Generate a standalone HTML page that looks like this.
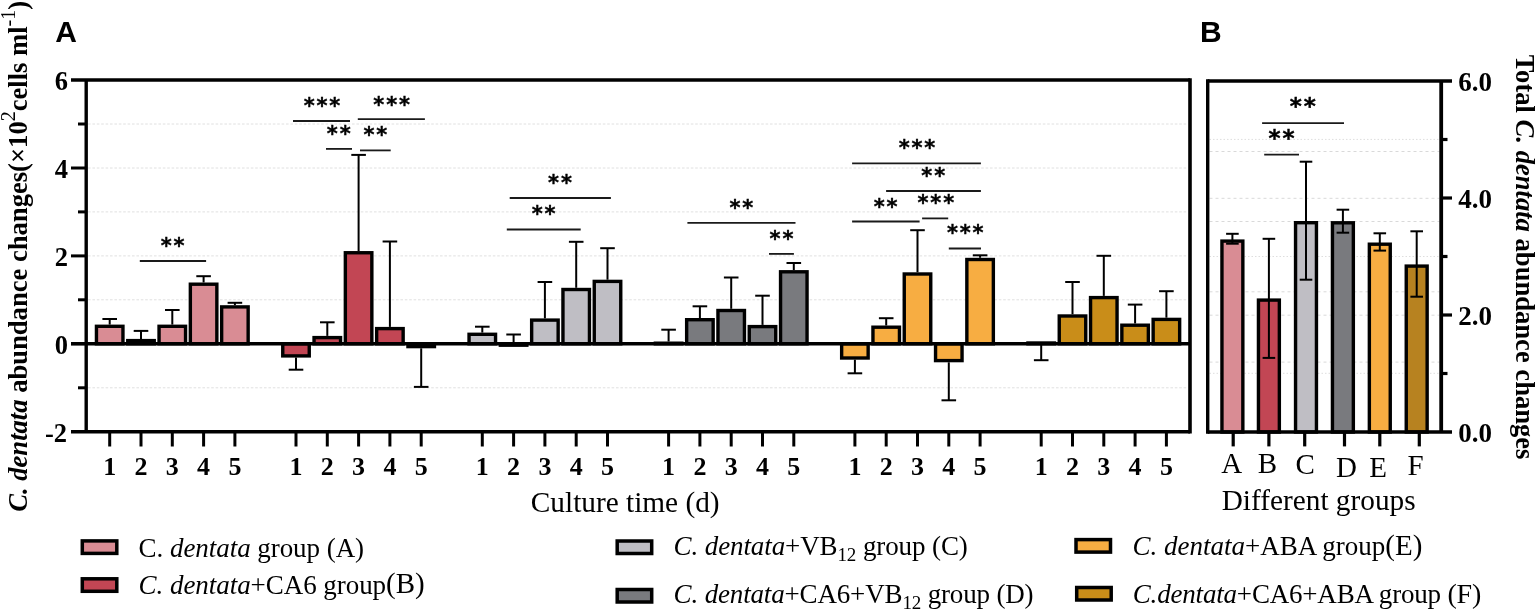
<!DOCTYPE html>
<html><head><meta charset="utf-8"><title>C. dentata abundance changes</title>
<style>html,body{margin:0;padding:0;background:#fff;} svg{display:block;}</style>
</head><body>
<svg width="1535" height="610" viewBox="0 0 1535 610">
<rect width="1535" height="610" fill="#fff"/>
<line x1="88" y1="124.0" x2="1188" y2="124.0" stroke="#e0e0e0" stroke-width="1" stroke-dasharray="2.6 1.8"/>
<line x1="88" y1="168.0" x2="1188" y2="168.0" stroke="#e0e0e0" stroke-width="1" stroke-dasharray="2.6 1.8"/>
<line x1="88" y1="211.9" x2="1188" y2="211.9" stroke="#e0e0e0" stroke-width="1" stroke-dasharray="2.6 1.8"/>
<line x1="88" y1="255.9" x2="1188" y2="255.9" stroke="#e0e0e0" stroke-width="1" stroke-dasharray="2.6 1.8"/>
<line x1="88" y1="299.8" x2="1188" y2="299.8" stroke="#e0e0e0" stroke-width="1" stroke-dasharray="2.6 1.8"/>
<line x1="88" y1="387.8" x2="1188" y2="387.8" stroke="#e0e0e0" stroke-width="1" stroke-dasharray="2.6 1.8"/>
<line x1="1209.5" y1="139.4" x2="1439.5" y2="139.4" stroke="#dedede" stroke-width="1" stroke-dasharray="1.5 2"/>
<line x1="1209.5" y1="256.5" x2="1439.5" y2="256.5" stroke="#dedede" stroke-width="1" stroke-dasharray="1.5 2"/>
<line x1="1209.5" y1="373.3" x2="1439.5" y2="373.3" stroke="#dedede" stroke-width="1" stroke-dasharray="1.5 2"/>
<line x1="1209.5" y1="151.5" x2="1439.5" y2="151.5" stroke="#d9d9d9" stroke-width="1" stroke-dasharray="3 3"/>
<line x1="1209.5" y1="198.3" x2="1439.5" y2="198.3" stroke="#d9d9d9" stroke-width="1" stroke-dasharray="3 3"/>
<line x1="1209.5" y1="221.5" x2="1439.5" y2="221.5" stroke="#d9d9d9" stroke-width="1" stroke-dasharray="3 3"/>
<line x1="1209.5" y1="291.8" x2="1439.5" y2="291.8" stroke="#d9d9d9" stroke-width="1" stroke-dasharray="3 3"/>
<line x1="1209.5" y1="315.2" x2="1439.5" y2="315.2" stroke="#d9d9d9" stroke-width="1" stroke-dasharray="3 3"/>
<line x1="1209.5" y1="362.1" x2="1439.5" y2="362.1" stroke="#d9d9d9" stroke-width="1" stroke-dasharray="3 3"/>
<rect x="96.45" y="326.30" width="26.50" height="17.50" fill="#d98c94" stroke="#000" stroke-width="3.4"/>
<line x1="109.70" y1="324.60" x2="109.70" y2="319.00" stroke="#000" stroke-width="2"/>
<line x1="102.40" y1="319.00" x2="117.00" y2="319.00" stroke="#000" stroke-width="2"/>
<rect x="127.75" y="340.60" width="26.50" height="3.20" fill="#d98c94" stroke="#000" stroke-width="3.4"/>
<line x1="141.00" y1="338.90" x2="141.00" y2="330.90" stroke="#000" stroke-width="2"/>
<line x1="133.70" y1="330.90" x2="148.30" y2="330.90" stroke="#000" stroke-width="2"/>
<rect x="159.05" y="326.30" width="26.50" height="17.50" fill="#d98c94" stroke="#000" stroke-width="3.4"/>
<line x1="172.30" y1="324.60" x2="172.30" y2="310.00" stroke="#000" stroke-width="2"/>
<line x1="165.00" y1="310.00" x2="179.60" y2="310.00" stroke="#000" stroke-width="2"/>
<rect x="190.35" y="284.20" width="26.50" height="59.60" fill="#d98c94" stroke="#000" stroke-width="3.4"/>
<line x1="203.60" y1="282.50" x2="203.60" y2="276.20" stroke="#000" stroke-width="2"/>
<line x1="196.30" y1="276.20" x2="210.90" y2="276.20" stroke="#000" stroke-width="2"/>
<rect x="221.65" y="306.90" width="26.50" height="36.90" fill="#d98c94" stroke="#000" stroke-width="3.4"/>
<line x1="234.90" y1="305.20" x2="234.90" y2="302.80" stroke="#000" stroke-width="2"/>
<line x1="227.60" y1="302.80" x2="242.20" y2="302.80" stroke="#000" stroke-width="2"/>
<rect x="282.75" y="343.80" width="26.50" height="12.10" fill="#c24654" stroke="#000" stroke-width="3.4"/>
<line x1="296.00" y1="357.60" x2="296.00" y2="369.70" stroke="#000" stroke-width="2"/>
<line x1="288.70" y1="369.70" x2="303.30" y2="369.70" stroke="#000" stroke-width="2"/>
<rect x="314.05" y="337.60" width="26.50" height="6.20" fill="#c24654" stroke="#000" stroke-width="3.4"/>
<line x1="327.30" y1="335.90" x2="327.30" y2="322.30" stroke="#000" stroke-width="2"/>
<line x1="320.00" y1="322.30" x2="334.60" y2="322.30" stroke="#000" stroke-width="2"/>
<rect x="345.35" y="252.75" width="26.50" height="91.05" fill="#c24654" stroke="#000" stroke-width="3.4"/>
<line x1="358.60" y1="251.05" x2="358.60" y2="154.90" stroke="#000" stroke-width="2"/>
<line x1="351.30" y1="154.90" x2="365.90" y2="154.90" stroke="#000" stroke-width="2"/>
<rect x="376.65" y="328.60" width="26.50" height="15.20" fill="#c24654" stroke="#000" stroke-width="3.4"/>
<line x1="389.90" y1="326.90" x2="389.90" y2="241.50" stroke="#000" stroke-width="2"/>
<line x1="382.60" y1="241.50" x2="397.20" y2="241.50" stroke="#000" stroke-width="2"/>
<rect x="407.95" y="343.80" width="26.50" height="2.80" fill="#c24654" stroke="#000" stroke-width="3.4"/>
<line x1="421.20" y1="348.30" x2="421.20" y2="386.90" stroke="#000" stroke-width="2"/>
<line x1="413.90" y1="386.90" x2="428.50" y2="386.90" stroke="#000" stroke-width="2"/>
<rect x="469.05" y="334.30" width="26.50" height="9.50" fill="#bfbec4" stroke="#000" stroke-width="3.4"/>
<line x1="482.30" y1="332.60" x2="482.30" y2="326.70" stroke="#000" stroke-width="2"/>
<line x1="475.00" y1="326.70" x2="489.60" y2="326.70" stroke="#000" stroke-width="2"/>
<rect x="500.35" y="343.80" width="26.50" height="1.40" fill="#bfbec4" stroke="#000" stroke-width="3.4"/>
<line x1="513.60" y1="343.80" x2="513.60" y2="334.50" stroke="#000" stroke-width="2"/>
<line x1="506.30" y1="334.50" x2="520.90" y2="334.50" stroke="#000" stroke-width="2"/>
<rect x="531.65" y="320.10" width="26.50" height="23.70" fill="#bfbec4" stroke="#000" stroke-width="3.4"/>
<line x1="544.90" y1="318.40" x2="544.90" y2="282.00" stroke="#000" stroke-width="2"/>
<line x1="537.60" y1="282.00" x2="552.20" y2="282.00" stroke="#000" stroke-width="2"/>
<rect x="562.95" y="289.50" width="26.50" height="54.30" fill="#bfbec4" stroke="#000" stroke-width="3.4"/>
<line x1="576.20" y1="287.80" x2="576.20" y2="241.80" stroke="#000" stroke-width="2"/>
<line x1="568.90" y1="241.80" x2="583.50" y2="241.80" stroke="#000" stroke-width="2"/>
<rect x="594.25" y="281.40" width="26.50" height="62.40" fill="#bfbec4" stroke="#000" stroke-width="3.4"/>
<line x1="607.50" y1="279.70" x2="607.50" y2="248.20" stroke="#000" stroke-width="2"/>
<line x1="600.20" y1="248.20" x2="614.80" y2="248.20" stroke="#000" stroke-width="2"/>
<rect x="655.35" y="343.20" width="26.50" height="0.60" fill="#797a7e" stroke="#000" stroke-width="3.4"/>
<line x1="668.60" y1="341.50" x2="668.60" y2="329.70" stroke="#000" stroke-width="2"/>
<line x1="661.30" y1="329.70" x2="675.90" y2="329.70" stroke="#000" stroke-width="2"/>
<rect x="686.65" y="319.70" width="26.50" height="24.10" fill="#797a7e" stroke="#000" stroke-width="3.4"/>
<line x1="699.90" y1="318.00" x2="699.90" y2="306.30" stroke="#000" stroke-width="2"/>
<line x1="692.60" y1="306.30" x2="707.20" y2="306.30" stroke="#000" stroke-width="2"/>
<rect x="717.95" y="310.50" width="26.50" height="33.30" fill="#797a7e" stroke="#000" stroke-width="3.4"/>
<line x1="731.20" y1="308.80" x2="731.20" y2="277.50" stroke="#000" stroke-width="2"/>
<line x1="723.90" y1="277.50" x2="738.50" y2="277.50" stroke="#000" stroke-width="2"/>
<rect x="749.25" y="326.60" width="26.50" height="17.20" fill="#797a7e" stroke="#000" stroke-width="3.4"/>
<line x1="762.50" y1="324.90" x2="762.50" y2="295.70" stroke="#000" stroke-width="2"/>
<line x1="755.20" y1="295.70" x2="769.80" y2="295.70" stroke="#000" stroke-width="2"/>
<rect x="780.55" y="271.80" width="26.50" height="72.00" fill="#797a7e" stroke="#000" stroke-width="3.4"/>
<line x1="793.80" y1="270.10" x2="793.80" y2="263.00" stroke="#000" stroke-width="2"/>
<line x1="786.50" y1="263.00" x2="801.10" y2="263.00" stroke="#000" stroke-width="2"/>
<rect x="841.65" y="343.80" width="26.50" height="14.20" fill="#f7ad42" stroke="#000" stroke-width="3.4"/>
<line x1="854.90" y1="359.70" x2="854.90" y2="373.30" stroke="#000" stroke-width="2"/>
<line x1="847.60" y1="373.30" x2="862.20" y2="373.30" stroke="#000" stroke-width="2"/>
<rect x="872.95" y="327.20" width="26.50" height="16.60" fill="#f7ad42" stroke="#000" stroke-width="3.4"/>
<line x1="886.20" y1="325.50" x2="886.20" y2="318.20" stroke="#000" stroke-width="2"/>
<line x1="878.90" y1="318.20" x2="893.50" y2="318.20" stroke="#000" stroke-width="2"/>
<rect x="904.25" y="274.00" width="26.50" height="69.80" fill="#f7ad42" stroke="#000" stroke-width="3.4"/>
<line x1="917.50" y1="272.30" x2="917.50" y2="230.20" stroke="#000" stroke-width="2"/>
<line x1="910.20" y1="230.20" x2="924.80" y2="230.20" stroke="#000" stroke-width="2"/>
<rect x="935.55" y="343.80" width="26.50" height="16.80" fill="#f7ad42" stroke="#000" stroke-width="3.4"/>
<line x1="948.80" y1="362.30" x2="948.80" y2="400.30" stroke="#000" stroke-width="2"/>
<line x1="941.50" y1="400.30" x2="956.10" y2="400.30" stroke="#000" stroke-width="2"/>
<rect x="966.85" y="259.50" width="26.50" height="84.30" fill="#f7ad42" stroke="#000" stroke-width="3.4"/>
<line x1="980.10" y1="257.80" x2="980.10" y2="255.30" stroke="#000" stroke-width="2"/>
<line x1="972.80" y1="255.30" x2="987.40" y2="255.30" stroke="#000" stroke-width="2"/>
<rect x="1027.95" y="343.00" width="26.50" height="0.80" fill="#c98d19" stroke="#000" stroke-width="3.4"/>
<line x1="1041.20" y1="343.80" x2="1041.20" y2="360.20" stroke="#000" stroke-width="2"/>
<line x1="1033.90" y1="360.20" x2="1048.50" y2="360.20" stroke="#000" stroke-width="2"/>
<rect x="1059.25" y="316.00" width="26.50" height="27.80" fill="#c98d19" stroke="#000" stroke-width="3.4"/>
<line x1="1072.50" y1="314.30" x2="1072.50" y2="282.00" stroke="#000" stroke-width="2"/>
<line x1="1065.20" y1="282.00" x2="1079.80" y2="282.00" stroke="#000" stroke-width="2"/>
<rect x="1090.55" y="297.60" width="26.50" height="46.20" fill="#c98d19" stroke="#000" stroke-width="3.4"/>
<line x1="1103.80" y1="295.90" x2="1103.80" y2="255.80" stroke="#000" stroke-width="2"/>
<line x1="1096.50" y1="255.80" x2="1111.10" y2="255.80" stroke="#000" stroke-width="2"/>
<rect x="1121.85" y="325.20" width="26.50" height="18.60" fill="#c98d19" stroke="#000" stroke-width="3.4"/>
<line x1="1135.10" y1="323.50" x2="1135.10" y2="304.60" stroke="#000" stroke-width="2"/>
<line x1="1127.80" y1="304.60" x2="1142.40" y2="304.60" stroke="#000" stroke-width="2"/>
<rect x="1153.15" y="319.40" width="26.50" height="24.40" fill="#c98d19" stroke="#000" stroke-width="3.4"/>
<line x1="1166.40" y1="317.70" x2="1166.40" y2="291.20" stroke="#000" stroke-width="2"/>
<line x1="1159.10" y1="291.20" x2="1173.70" y2="291.20" stroke="#000" stroke-width="2"/>
<line x1="71" y1="80" x2="1190" y2="80" stroke="#000" stroke-width="3.6"/>
<line x1="71" y1="431.8" x2="1190" y2="431.8" stroke="#000" stroke-width="3.6"/>
<line x1="86.2" y1="80" x2="86.2" y2="431.8" stroke="#000" stroke-width="3.4"/>
<line x1="1190" y1="78.2" x2="1190" y2="433.6" stroke="#000" stroke-width="3.6"/>
<line x1="86.2" y1="343.8" x2="1190" y2="343.8" stroke="#000" stroke-width="3.6"/>
<line x1="78" y1="387.8" x2="86.2" y2="387.8" stroke="#000" stroke-width="3"/>
<line x1="71" y1="343.8" x2="86.2" y2="343.8" stroke="#000" stroke-width="3.6"/>
<line x1="78" y1="299.8" x2="86.2" y2="299.8" stroke="#000" stroke-width="3"/>
<line x1="71" y1="255.9" x2="86.2" y2="255.9" stroke="#000" stroke-width="3"/>
<line x1="78" y1="211.9" x2="86.2" y2="211.9" stroke="#000" stroke-width="3"/>
<line x1="71" y1="168.0" x2="86.2" y2="168.0" stroke="#000" stroke-width="3"/>
<line x1="78" y1="124.0" x2="86.2" y2="124.0" stroke="#000" stroke-width="3"/>
<text x="68" y="90.0" text-anchor="end" font-family="'Liberation Serif', 'Times New Roman', serif" font-weight="bold" font-size="26.5">6</text>
<text x="68" y="178.0" text-anchor="end" font-family="'Liberation Serif', 'Times New Roman', serif" font-weight="bold" font-size="26.5">4</text>
<text x="68" y="265.9" text-anchor="end" font-family="'Liberation Serif', 'Times New Roman', serif" font-weight="bold" font-size="26.5">2</text>
<text x="68" y="353.8" text-anchor="end" font-family="'Liberation Serif', 'Times New Roman', serif" font-weight="bold" font-size="26.5">0</text>
<text x="67" y="441.7" text-anchor="end" font-family="'Liberation Serif', 'Times New Roman', serif" font-weight="bold" font-size="26.5">-2</text>
<line x1="109.70" y1="431.8" x2="109.70" y2="446.5" stroke="#000" stroke-width="3"/>
<text x="109.70" y="475.3" text-anchor="middle" font-family="'Liberation Serif', 'Times New Roman', serif" font-weight="bold" font-size="26">1</text>
<line x1="141.00" y1="431.8" x2="141.00" y2="446.5" stroke="#000" stroke-width="3"/>
<text x="141.00" y="475.3" text-anchor="middle" font-family="'Liberation Serif', 'Times New Roman', serif" font-weight="bold" font-size="26">2</text>
<line x1="172.30" y1="431.8" x2="172.30" y2="446.5" stroke="#000" stroke-width="3"/>
<text x="172.30" y="475.3" text-anchor="middle" font-family="'Liberation Serif', 'Times New Roman', serif" font-weight="bold" font-size="26">3</text>
<line x1="203.60" y1="431.8" x2="203.60" y2="446.5" stroke="#000" stroke-width="3"/>
<text x="203.60" y="475.3" text-anchor="middle" font-family="'Liberation Serif', 'Times New Roman', serif" font-weight="bold" font-size="26">4</text>
<line x1="234.90" y1="431.8" x2="234.90" y2="446.5" stroke="#000" stroke-width="3"/>
<text x="234.90" y="475.3" text-anchor="middle" font-family="'Liberation Serif', 'Times New Roman', serif" font-weight="bold" font-size="26">5</text>
<line x1="296.00" y1="431.8" x2="296.00" y2="446.5" stroke="#000" stroke-width="3"/>
<text x="296.00" y="475.3" text-anchor="middle" font-family="'Liberation Serif', 'Times New Roman', serif" font-weight="bold" font-size="26">1</text>
<line x1="327.30" y1="431.8" x2="327.30" y2="446.5" stroke="#000" stroke-width="3"/>
<text x="327.30" y="475.3" text-anchor="middle" font-family="'Liberation Serif', 'Times New Roman', serif" font-weight="bold" font-size="26">2</text>
<line x1="358.60" y1="431.8" x2="358.60" y2="446.5" stroke="#000" stroke-width="3"/>
<text x="358.60" y="475.3" text-anchor="middle" font-family="'Liberation Serif', 'Times New Roman', serif" font-weight="bold" font-size="26">3</text>
<line x1="389.90" y1="431.8" x2="389.90" y2="446.5" stroke="#000" stroke-width="3"/>
<text x="389.90" y="475.3" text-anchor="middle" font-family="'Liberation Serif', 'Times New Roman', serif" font-weight="bold" font-size="26">4</text>
<line x1="421.20" y1="431.8" x2="421.20" y2="446.5" stroke="#000" stroke-width="3"/>
<text x="421.20" y="475.3" text-anchor="middle" font-family="'Liberation Serif', 'Times New Roman', serif" font-weight="bold" font-size="26">5</text>
<line x1="482.30" y1="431.8" x2="482.30" y2="446.5" stroke="#000" stroke-width="3"/>
<text x="482.30" y="475.3" text-anchor="middle" font-family="'Liberation Serif', 'Times New Roman', serif" font-weight="bold" font-size="26">1</text>
<line x1="513.60" y1="431.8" x2="513.60" y2="446.5" stroke="#000" stroke-width="3"/>
<text x="513.60" y="475.3" text-anchor="middle" font-family="'Liberation Serif', 'Times New Roman', serif" font-weight="bold" font-size="26">2</text>
<line x1="544.90" y1="431.8" x2="544.90" y2="446.5" stroke="#000" stroke-width="3"/>
<text x="544.90" y="475.3" text-anchor="middle" font-family="'Liberation Serif', 'Times New Roman', serif" font-weight="bold" font-size="26">3</text>
<line x1="576.20" y1="431.8" x2="576.20" y2="446.5" stroke="#000" stroke-width="3"/>
<text x="576.20" y="475.3" text-anchor="middle" font-family="'Liberation Serif', 'Times New Roman', serif" font-weight="bold" font-size="26">4</text>
<line x1="607.50" y1="431.8" x2="607.50" y2="446.5" stroke="#000" stroke-width="3"/>
<text x="607.50" y="475.3" text-anchor="middle" font-family="'Liberation Serif', 'Times New Roman', serif" font-weight="bold" font-size="26">5</text>
<line x1="668.60" y1="431.8" x2="668.60" y2="446.5" stroke="#000" stroke-width="3"/>
<text x="668.60" y="475.3" text-anchor="middle" font-family="'Liberation Serif', 'Times New Roman', serif" font-weight="bold" font-size="26">1</text>
<line x1="699.90" y1="431.8" x2="699.90" y2="446.5" stroke="#000" stroke-width="3"/>
<text x="699.90" y="475.3" text-anchor="middle" font-family="'Liberation Serif', 'Times New Roman', serif" font-weight="bold" font-size="26">2</text>
<line x1="731.20" y1="431.8" x2="731.20" y2="446.5" stroke="#000" stroke-width="3"/>
<text x="731.20" y="475.3" text-anchor="middle" font-family="'Liberation Serif', 'Times New Roman', serif" font-weight="bold" font-size="26">3</text>
<line x1="762.50" y1="431.8" x2="762.50" y2="446.5" stroke="#000" stroke-width="3"/>
<text x="762.50" y="475.3" text-anchor="middle" font-family="'Liberation Serif', 'Times New Roman', serif" font-weight="bold" font-size="26">4</text>
<line x1="793.80" y1="431.8" x2="793.80" y2="446.5" stroke="#000" stroke-width="3"/>
<text x="793.80" y="475.3" text-anchor="middle" font-family="'Liberation Serif', 'Times New Roman', serif" font-weight="bold" font-size="26">5</text>
<line x1="854.90" y1="431.8" x2="854.90" y2="446.5" stroke="#000" stroke-width="3"/>
<text x="854.90" y="475.3" text-anchor="middle" font-family="'Liberation Serif', 'Times New Roman', serif" font-weight="bold" font-size="26">1</text>
<line x1="886.20" y1="431.8" x2="886.20" y2="446.5" stroke="#000" stroke-width="3"/>
<text x="886.20" y="475.3" text-anchor="middle" font-family="'Liberation Serif', 'Times New Roman', serif" font-weight="bold" font-size="26">2</text>
<line x1="917.50" y1="431.8" x2="917.50" y2="446.5" stroke="#000" stroke-width="3"/>
<text x="917.50" y="475.3" text-anchor="middle" font-family="'Liberation Serif', 'Times New Roman', serif" font-weight="bold" font-size="26">3</text>
<line x1="948.80" y1="431.8" x2="948.80" y2="446.5" stroke="#000" stroke-width="3"/>
<text x="948.80" y="475.3" text-anchor="middle" font-family="'Liberation Serif', 'Times New Roman', serif" font-weight="bold" font-size="26">4</text>
<line x1="980.10" y1="431.8" x2="980.10" y2="446.5" stroke="#000" stroke-width="3"/>
<text x="980.10" y="475.3" text-anchor="middle" font-family="'Liberation Serif', 'Times New Roman', serif" font-weight="bold" font-size="26">5</text>
<line x1="1041.20" y1="431.8" x2="1041.20" y2="446.5" stroke="#000" stroke-width="3"/>
<text x="1041.20" y="475.3" text-anchor="middle" font-family="'Liberation Serif', 'Times New Roman', serif" font-weight="bold" font-size="26">1</text>
<line x1="1072.50" y1="431.8" x2="1072.50" y2="446.5" stroke="#000" stroke-width="3"/>
<text x="1072.50" y="475.3" text-anchor="middle" font-family="'Liberation Serif', 'Times New Roman', serif" font-weight="bold" font-size="26">2</text>
<line x1="1103.80" y1="431.8" x2="1103.80" y2="446.5" stroke="#000" stroke-width="3"/>
<text x="1103.80" y="475.3" text-anchor="middle" font-family="'Liberation Serif', 'Times New Roman', serif" font-weight="bold" font-size="26">3</text>
<line x1="1135.10" y1="431.8" x2="1135.10" y2="446.5" stroke="#000" stroke-width="3"/>
<text x="1135.10" y="475.3" text-anchor="middle" font-family="'Liberation Serif', 'Times New Roman', serif" font-weight="bold" font-size="26">4</text>
<line x1="1166.40" y1="431.8" x2="1166.40" y2="446.5" stroke="#000" stroke-width="3"/>
<text x="1166.40" y="475.3" text-anchor="middle" font-family="'Liberation Serif', 'Times New Roman', serif" font-weight="bold" font-size="26">5</text>
<line x1="139.8" y1="261.0" x2="206.1" y2="261.0" stroke="#1a1a1a" stroke-width="1.8"/>
<line x1="293" y1="121" x2="350" y2="121" stroke="#1a1a1a" stroke-width="1.8"/>
<line x1="357.8" y1="119.1" x2="424.9" y2="119.1" stroke="#1a1a1a" stroke-width="1.8"/>
<line x1="326" y1="148.9" x2="352" y2="148.9" stroke="#1a1a1a" stroke-width="1.8"/>
<line x1="360" y1="150.4" x2="390.7" y2="150.4" stroke="#1a1a1a" stroke-width="1.8"/>
<line x1="509.7" y1="198" x2="610.9" y2="198" stroke="#1a1a1a" stroke-width="1.8"/>
<line x1="506.8" y1="229.5" x2="580.7" y2="229.5" stroke="#1a1a1a" stroke-width="1.8"/>
<line x1="687.4" y1="222.9" x2="795.5" y2="222.9" stroke="#1a1a1a" stroke-width="1.8"/>
<line x1="769" y1="253.9" x2="793.9" y2="253.9" stroke="#1a1a1a" stroke-width="1.8"/>
<line x1="852.1" y1="163.3" x2="980.9" y2="163.3" stroke="#1a1a1a" stroke-width="1.8"/>
<line x1="886.1" y1="191" x2="980.9" y2="191" stroke="#1a1a1a" stroke-width="1.8"/>
<line x1="852.1" y1="221.5" x2="919.6" y2="221.5" stroke="#1a1a1a" stroke-width="1.8"/>
<line x1="922.1" y1="218.4" x2="948.2" y2="218.4" stroke="#1a1a1a" stroke-width="1.8"/>
<line x1="948.8" y1="248.5" x2="981" y2="248.5" stroke="#1a1a1a" stroke-width="1.8"/>
<line x1="1262.1" y1="123.1" x2="1344" y2="123.1" stroke="#1a1a1a" stroke-width="1.8"/>
<line x1="1264.2" y1="154.6" x2="1299" y2="154.6" stroke="#1a1a1a" stroke-width="1.8"/>
<text x="160.7" y="252.8" font-family="'DejaVu Sans', sans-serif" font-weight="bold" font-size="21" letter-spacing="1.85" stroke="#000" stroke-width="0.4">**</text>
<text x="303.7" y="112.7" font-family="'DejaVu Sans', sans-serif" font-weight="bold" font-size="21" letter-spacing="1.85" stroke="#000" stroke-width="0.4">***</text>
<text x="373.3" y="111.5" font-family="'DejaVu Sans', sans-serif" font-weight="bold" font-size="21" letter-spacing="1.85" stroke="#000" stroke-width="0.4">***</text>
<text x="326.8" y="141.0" font-family="'DejaVu Sans', sans-serif" font-weight="bold" font-size="21" letter-spacing="1.85" stroke="#000" stroke-width="0.4">**</text>
<text x="363.4" y="142.4" font-family="'DejaVu Sans', sans-serif" font-weight="bold" font-size="21" letter-spacing="1.85" stroke="#000" stroke-width="0.4">**</text>
<text x="548.1" y="189.8" font-family="'DejaVu Sans', sans-serif" font-weight="bold" font-size="21" letter-spacing="1.85" stroke="#000" stroke-width="0.4">**</text>
<text x="531.7" y="221.0" font-family="'DejaVu Sans', sans-serif" font-weight="bold" font-size="21" letter-spacing="1.85" stroke="#000" stroke-width="0.4">**</text>
<text x="729.4" y="215.1" font-family="'DejaVu Sans', sans-serif" font-weight="bold" font-size="21" letter-spacing="1.85" stroke="#000" stroke-width="0.4">**</text>
<text x="769.6" y="245.5" font-family="'DejaVu Sans', sans-serif" font-weight="bold" font-size="21" letter-spacing="1.85" stroke="#000" stroke-width="0.4">**</text>
<text x="898.7" y="155.2" font-family="'DejaVu Sans', sans-serif" font-weight="bold" font-size="21" letter-spacing="1.85" stroke="#000" stroke-width="0.4">***</text>
<text x="921.3" y="182.9" font-family="'DejaVu Sans', sans-serif" font-weight="bold" font-size="21" letter-spacing="1.85" stroke="#000" stroke-width="0.4">**</text>
<text x="873.7" y="213.5" font-family="'DejaVu Sans', sans-serif" font-weight="bold" font-size="21" letter-spacing="1.85" stroke="#000" stroke-width="0.4">**</text>
<text x="917.5" y="210.4" font-family="'DejaVu Sans', sans-serif" font-weight="bold" font-size="21" letter-spacing="1.85" stroke="#000" stroke-width="0.4">***</text>
<text x="946.9" y="240.4" font-family="'DejaVu Sans', sans-serif" font-weight="bold" font-size="21" letter-spacing="1.85" stroke="#000" stroke-width="0.4">***</text>
<text x="1289.7" y="113.9" font-family="'DejaVu Sans', sans-serif" font-weight="bold" font-size="23" letter-spacing="2" stroke="#000" stroke-width="0.45">**</text>
<text x="1268.5" y="145.5" font-family="'DejaVu Sans', sans-serif" font-weight="bold" font-size="23" letter-spacing="2" stroke="#000" stroke-width="0.45">**</text>
<rect x="1221.95" y="241.10" width="20.90" height="190.90" fill="#d98c94" stroke="#000" stroke-width="3.4"/>
<line x1="1232.40" y1="233.8" x2="1232.40" y2="243.7" stroke="#000" stroke-width="2"/>
<line x1="1226.10" y1="233.8" x2="1238.70" y2="233.8" stroke="#000" stroke-width="2"/>
<line x1="1226.10" y1="243.7" x2="1238.70" y2="243.7" stroke="#000" stroke-width="2"/>
<rect x="1258.45" y="300.10" width="20.90" height="131.90" fill="#c24654" stroke="#000" stroke-width="3.4"/>
<line x1="1268.90" y1="238.8" x2="1268.90" y2="357.9" stroke="#000" stroke-width="2"/>
<line x1="1262.60" y1="238.8" x2="1275.20" y2="238.8" stroke="#000" stroke-width="2"/>
<line x1="1262.60" y1="357.9" x2="1275.20" y2="357.9" stroke="#000" stroke-width="2"/>
<rect x="1295.55" y="222.70" width="20.90" height="209.30" fill="#bfbec4" stroke="#000" stroke-width="3.4"/>
<line x1="1306.00" y1="161.7" x2="1306.00" y2="279.7" stroke="#000" stroke-width="2"/>
<line x1="1299.70" y1="161.7" x2="1312.30" y2="161.7" stroke="#000" stroke-width="2"/>
<line x1="1299.70" y1="279.7" x2="1312.30" y2="279.7" stroke="#000" stroke-width="2"/>
<rect x="1332.45" y="222.80" width="20.90" height="209.20" fill="#797a7e" stroke="#000" stroke-width="3.4"/>
<line x1="1342.90" y1="209.7" x2="1342.90" y2="232.7" stroke="#000" stroke-width="2"/>
<line x1="1336.60" y1="209.7" x2="1349.20" y2="209.7" stroke="#000" stroke-width="2"/>
<line x1="1336.60" y1="232.7" x2="1349.20" y2="232.7" stroke="#000" stroke-width="2"/>
<rect x="1369.35" y="244.20" width="20.90" height="187.80" fill="#f7ad42" stroke="#000" stroke-width="3.4"/>
<line x1="1379.80" y1="233.3" x2="1379.80" y2="250.6" stroke="#000" stroke-width="2"/>
<line x1="1373.50" y1="233.3" x2="1386.10" y2="233.3" stroke="#000" stroke-width="2"/>
<line x1="1373.50" y1="250.6" x2="1386.10" y2="250.6" stroke="#000" stroke-width="2"/>
<rect x="1406.25" y="266.10" width="20.90" height="165.90" fill="#b78220" stroke="#000" stroke-width="3.4"/>
<line x1="1416.70" y1="231.3" x2="1416.70" y2="296.7" stroke="#000" stroke-width="2"/>
<line x1="1410.40" y1="231.3" x2="1423.00" y2="231.3" stroke="#000" stroke-width="2"/>
<line x1="1410.40" y1="296.7" x2="1423.00" y2="296.7" stroke="#000" stroke-width="2"/>
<line x1="1207.7" y1="81" x2="1452" y2="81" stroke="#000" stroke-width="3.6"/>
<line x1="1207.7" y1="432" x2="1452" y2="432" stroke="#000" stroke-width="3.6"/>
<line x1="1207.7" y1="79.2" x2="1207.7" y2="433.8" stroke="#000" stroke-width="3.4"/>
<line x1="1441.2" y1="81" x2="1441.2" y2="432" stroke="#000" stroke-width="3.8"/>
<line x1="1441.2" y1="373.5" x2="1447.5" y2="373.5" stroke="#000" stroke-width="3.2"/>
<line x1="1441.2" y1="315.0" x2="1452" y2="315.0" stroke="#000" stroke-width="3.2"/>
<line x1="1441.2" y1="256.5" x2="1447.5" y2="256.5" stroke="#000" stroke-width="3.2"/>
<line x1="1441.2" y1="198.0" x2="1452" y2="198.0" stroke="#000" stroke-width="3.2"/>
<line x1="1441.2" y1="139.5" x2="1447.5" y2="139.5" stroke="#000" stroke-width="3.2"/>
<text x="1458.2" y="442.2" font-family="'Liberation Serif', 'Times New Roman', serif" font-weight="bold" font-size="27">0.0</text>
<text x="1458.2" y="325.2" font-family="'Liberation Serif', 'Times New Roman', serif" font-weight="bold" font-size="27">2.0</text>
<text x="1458.2" y="208.2" font-family="'Liberation Serif', 'Times New Roman', serif" font-weight="bold" font-size="27">4.0</text>
<text x="1458.2" y="91.2" font-family="'Liberation Serif', 'Times New Roman', serif" font-weight="bold" font-size="27">6.0</text>
<line x1="1233.2" y1="432" x2="1233.2" y2="446.4" stroke="#000" stroke-width="3.2"/>
<line x1="1268.9" y1="432" x2="1268.9" y2="446.4" stroke="#000" stroke-width="3.2"/>
<line x1="1304.7" y1="432" x2="1304.7" y2="446.4" stroke="#000" stroke-width="3.2"/>
<line x1="1344.5" y1="432" x2="1344.5" y2="446.4" stroke="#000" stroke-width="3.2"/>
<line x1="1379.8" y1="432" x2="1379.8" y2="446.4" stroke="#000" stroke-width="3.2"/>
<line x1="1419.3" y1="432" x2="1419.3" y2="446.4" stroke="#000" stroke-width="3.2"/>
<text x="1221.2" y="473.0" font-family="'Liberation Serif', 'Times New Roman', serif" font-size="29">A</text>
<text x="1257.7" y="472.6" font-family="'Liberation Serif', 'Times New Roman', serif" font-size="29">B</text>
<text x="1295.6" y="474.4" font-family="'Liberation Serif', 'Times New Roman', serif" font-size="29">C</text>
<text x="1336.0" y="476.7" font-family="'Liberation Serif', 'Times New Roman', serif" font-size="29">D</text>
<text x="1369.3" y="476.7" font-family="'Liberation Serif', 'Times New Roman', serif" font-size="29">E</text>
<text x="1407.5" y="474.9" font-family="'Liberation Serif', 'Times New Roman', serif" font-size="29">F</text>
<text x="530.8" y="511.6" font-family="'Liberation Serif', 'Times New Roman', serif" font-size="29.3">Culture time (d)</text>
<text x="1221.7" y="510.1" font-family="'Liberation Serif', 'Times New Roman', serif" font-size="29.3">Different groups</text>
<text x="55.2" y="41.9" font-family="'Liberation Sans', Arial, sans-serif" font-weight="bold" font-size="30">A</text>
<text x="1200" y="41.9" font-family="'Liberation Sans', Arial, sans-serif" font-weight="bold" font-size="30">B</text>
<text transform="translate(27,511.8) rotate(-90)" font-family="'Liberation Serif', 'Times New Roman', serif" font-weight="bold" font-size="26.6"><tspan font-style="italic">C. dentata</tspan> abundance changes(×10<tspan font-size="20" font-weight="normal" dy="-11.6" dx="0">2</tspan><tspan dy="11.6" dx="0">cells ml</tspan><tspan font-size="20" font-weight="normal" dy="-11.6" dx="0">-1</tspan><tspan dy="11.6" dx="0">)</tspan></text>
<text transform="translate(1515.7,54.8) rotate(90)" font-family="'Liberation Serif', 'Times New Roman', serif" font-weight="bold" font-size="26.6">Total <tspan font-style="italic">C. dentata</tspan> abundance changes</text>
<rect x="82.3" y="540.9" width="34.5" height="12.5" fill="#d98c94" stroke="#000" stroke-width="3.5"/>
<text x="138.6" y="556.7" font-family="'Liberation Serif', 'Times New Roman', serif" font-size="27" textLength="225.5" lengthAdjust="spacing"><tspan>C. </tspan><tspan font-style="italic">dentata</tspan> group (A)</text>
<rect x="82.3" y="578.8" width="34.5" height="12.5" fill="#c24654" stroke="#000" stroke-width="3.5"/>
<text x="138.6" y="594.2" font-family="'Liberation Serif', 'Times New Roman', serif" font-size="27" textLength="286.0" lengthAdjust="spacing"><tspan font-style="italic">C. dentata</tspan>+CA6 group<tspan font-size="29" dy="-1.5">(B)</tspan></text>
<rect x="617.2" y="541.0" width="34.5" height="12.5" fill="#bfbec4" stroke="#000" stroke-width="3.5"/>
<text x="673.6" y="554.7" font-family="'Liberation Serif', 'Times New Roman', serif" font-size="27" textLength="294.2" lengthAdjust="spacing"><tspan font-style="italic">C. dentata</tspan>+VB<tspan font-size="19" dy="6">12</tspan><tspan dy="-6"> group (C)</tspan></text>
<rect x="617.2" y="589.5" width="34.5" height="12.5" fill="#797a7e" stroke="#000" stroke-width="3.5"/>
<text x="673.6" y="602.8" font-family="'Liberation Serif', 'Times New Roman', serif" font-size="27" textLength="360.0" lengthAdjust="spacing"><tspan font-style="italic">C. dentata</tspan>+CA6+VB<tspan font-size="19" dy="6">12</tspan><tspan dy="-6"> group (D)</tspan></text>
<rect x="1076.0" y="539.6" width="34.5" height="12.5" fill="#f7ad42" stroke="#000" stroke-width="3.5"/>
<text x="1132.6" y="554.5" font-family="'Liberation Serif', 'Times New Roman', serif" font-size="27" textLength="289.7" lengthAdjust="spacing"><tspan font-style="italic">C. dentata</tspan>+ABA group<tspan font-size="29">(E)</tspan></text>
<rect x="1076.7" y="587.5" width="34.5" height="12.5" fill="#c98d19" stroke="#000" stroke-width="3.5"/>
<text x="1132.8" y="603.0" font-family="'Liberation Serif', 'Times New Roman', serif" font-size="27" textLength="348.5" lengthAdjust="spacing"><tspan font-style="italic">C.dentata</tspan>+CA6+ABA group <tspan font-size="28">(F)</tspan></text>
</svg>
</body></html>
